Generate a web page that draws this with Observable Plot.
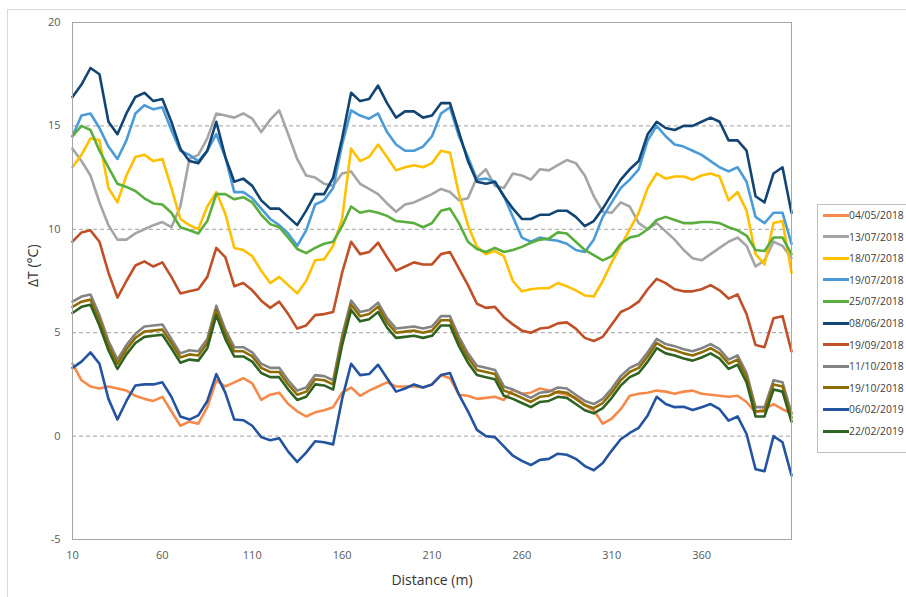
<!DOCTYPE html>
<html><head><meta charset="utf-8">
<script src="https://cdn.jsdelivr.net/npm/d3@7"></script>
<script src="https://cdn.jsdelivr.net/npm/@observablehq/plot@0.6"></script>
<style>
body{margin:0;background:#fff;}
#wrap{position:relative;width:906px;height:597px;overflow:hidden;font-family:"Open Sans",sans-serif;background:#fff;}
#border{position:absolute;left:7px;top:9px;width:1000px;height:700px;border:1px solid #d9d9d9;}
#chart{position:absolute;left:0;top:0;}
#legend{position:absolute;left:817px;top:204px;width:130px;height:247px;border:1px solid #bfbfbf;background:#fff;}
.row{position:absolute;left:0;height:16px;width:130px;}
.sw{position:absolute;left:5px;top:6.5px;width:26px;height:3px;}
.lt{position:absolute;left:31px;top:0;line-height:16px;font-size:10.3px;color:#404040;white-space:nowrap;}
</style></head><body>
<div id="wrap"><div id="border"></div><div id="chart"></div><div id="legend"></div></div>
<script>
const distances = d3.range(10, 411, 5);
const xTicks = [10, 60, 110, 160, 210, 260, 310, 360];
const yTicks = [-5, 0, 5, 10, 15, 20];
const gridTicks = [0, 5, 10, 15];

const seriesNames = ["04/05/2018","13/07/2018","18/07/2018","19/07/2018","25/07/2018","08/06/2018","19/09/2018","11/10/2018","19/10/2018","06/02/2019","22/02/2019"];
const seriesColors = ["#F58A4A","#A5A5A5","#FFC000","#4A9BD7","#5AAE3E","#124573","#BF5028","#838383","#8F6D05","#2454A0","#2F6322"];

const s0405 = [3.5,2.7,2.4,2.3,2.4,2.3,2.2,1.95,1.8,1.7,
 1.9,1.2,0.5,0.7,0.6,1.4,2.7,2.4,2.6,2.8,
 2.55,1.75,2.0,2.1,1.55,1.2,0.95,1.15,1.25,1.4,
 2.1,2.35,1.95,2.2,2.4,2.6,2.4,2.4,2.4,2.35,
 2.5,2.95,2.8,2.0,1.95,1.8,1.85,1.9,1.75,2.25,
 2.05,2.1,2.3,2.2,2.1,2.0,1.85,1.5,1.25,0.6,
 0.85,1.3,1.95,2.05,2.1,2.2,2.15,2.05,2.15,2.2,
 2.05,2.0,1.95,1.9,1.95,1.65,1.15,1.3,1.55,1.3,
 1.1];
const s1307 = [13.9,13.3,12.6,11.3,10.2,9.5,9.5,9.8,10.0,10.2,
 10.35,10.1,11.1,13.4,13.6,14.4,15.6,15.5,15.4,15.6,
 15.35,14.7,15.3,15.75,14.6,13.4,12.6,12.5,12.2,12.1,
 12.7,12.8,12.2,11.95,11.7,11.25,10.85,11.2,11.3,11.5,
 11.7,11.95,11.8,11.4,11.5,12.5,12.9,12.1,12.0,12.7,
 12.6,12.4,12.9,12.85,13.1,13.35,13.2,12.6,11.6,10.85,
 10.8,11.3,11.1,10.3,10.0,10.3,9.9,9.5,9.0,8.6,
 8.5,8.8,9.1,9.4,9.6,9.2,8.2,8.5,9.4,9.2,
 8.6];
const s1807 = [13.0,13.6,14.4,14.3,12.0,11.3,12.6,13.5,13.6,13.3,
 13.4,12.0,10.5,10.2,10.0,11.1,11.8,10.75,9.1,9.0,
 8.7,8.0,7.4,7.7,7.3,6.9,7.5,8.5,8.55,9.2,
 10.5,13.9,13.3,13.5,14.1,13.5,12.85,13.0,13.1,13.0,
 13.2,13.8,13.7,11.7,10.2,9.15,8.8,8.95,8.7,7.5,
 7.0,7.1,7.15,7.15,7.4,7.25,7.05,6.8,6.75,7.5,
 8.4,9.2,10.0,10.8,12.0,12.7,12.45,12.55,12.55,12.4,
 12.6,12.7,12.55,11.4,11.8,10.9,8.8,8.3,10.3,10.4,
 7.9];
const s1907 = [14.5,15.5,15.6,14.9,14.0,13.4,14.3,15.6,16.0,15.8,
 15.9,14.8,13.8,13.6,13.3,13.8,14.6,13.5,11.8,11.8,
 11.5,11.0,10.5,10.2,9.8,9.2,9.95,11.2,11.4,12.0,
 14.1,15.75,15.5,15.35,15.6,14.7,14.1,13.8,13.8,14.0,
 14.5,15.6,15.9,14.5,13.5,12.4,12.45,12.3,11.6,10.6,
 9.6,9.4,9.6,9.5,9.45,9.3,9.0,8.9,9.5,10.6,
 11.3,12.0,12.4,12.9,14.3,15.0,14.5,14.1,14.0,13.8,
 13.6,13.3,13.0,12.8,13.0,12.3,10.6,10.3,10.8,10.8,
 9.3];
const s2507 = [14.5,15.0,14.8,13.8,13.0,12.2,12.05,11.85,11.5,11.25,
 11.2,10.8,10.1,9.95,9.8,10.4,11.7,11.7,11.45,11.55,
 11.3,10.7,10.25,10.1,9.6,9.05,8.85,9.1,9.3,9.4,
 10.15,11.1,10.8,10.9,10.8,10.65,10.4,10.35,10.3,10.1,
 10.3,10.9,11.0,10.3,9.4,9.05,8.9,9.1,8.9,9.0,
 9.15,9.35,9.5,9.55,9.85,9.8,9.4,9.0,8.75,8.5,
 8.7,9.3,9.6,9.7,10.0,10.45,10.6,10.45,10.3,10.3,
 10.35,10.35,10.3,10.1,9.95,9.7,9.0,8.95,9.6,9.6,
 8.8];
const s0806 = [16.4,17.0,17.8,17.5,15.2,14.6,15.6,16.4,16.6,16.2,
 16.3,15.2,13.9,13.3,13.2,13.8,15.2,13.5,12.3,12.45,
 12.1,11.4,11.0,11.0,10.6,10.2,10.9,11.7,11.7,12.5,
 14.4,16.6,16.2,16.3,16.95,16.1,15.4,15.7,15.7,15.4,
 15.5,16.1,16.1,14.7,13.3,12.3,12.2,12.3,11.6,11.0,
 10.5,10.5,10.7,10.7,10.9,10.9,10.6,10.15,10.4,11.0,
 11.7,12.4,12.9,13.3,14.6,15.2,14.9,14.8,15.0,15.0,
 15.2,15.4,15.2,14.3,14.3,13.8,11.6,11.3,12.7,13.0,
 10.8];
const s1909 = [9.4,9.85,9.95,9.4,7.9,6.7,7.5,8.25,8.45,8.2,
 8.4,7.7,6.9,7.0,7.1,7.7,9.1,8.65,7.25,7.4,
 7.05,6.55,6.2,6.5,5.9,5.2,5.35,5.85,5.9,6.0,
 7.9,9.4,8.8,8.9,9.35,8.65,8.0,8.2,8.4,8.3,
 8.3,8.8,8.9,8.1,7.3,6.4,6.2,6.25,5.75,5.4,
 5.1,5.0,5.2,5.25,5.45,5.5,5.2,4.75,4.6,4.8,
 5.4,6.0,6.2,6.5,7.1,7.6,7.4,7.1,7.0,7.0,
 7.1,7.3,7.05,6.65,6.85,5.9,4.4,4.3,5.7,5.8,
 4.1];
const s1110 = [6.5,6.75,6.85,5.85,4.6,3.7,4.4,4.95,5.3,5.35,
 5.4,4.7,4.0,4.15,4.1,4.7,6.3,5.15,4.3,4.3,
 4.05,3.5,3.3,3.3,2.7,2.2,2.35,2.95,2.9,2.7,
 4.85,6.55,6.0,6.1,6.45,5.7,5.2,5.25,5.3,5.2,
 5.3,5.8,5.8,4.8,4.0,3.4,3.3,3.2,2.4,2.25,
 2.05,1.85,2.1,2.15,2.35,2.3,2.0,1.7,1.55,1.8,
 2.3,2.9,3.3,3.5,4.05,4.7,4.45,4.35,4.2,4.1,
 4.25,4.45,4.2,3.7,3.9,3.05,1.4,1.4,2.7,2.6,
 1.1];
const s1910 = [6.25,6.5,6.6,5.6,4.4,3.5,4.2,4.75,5.05,5.1,
 5.15,4.5,3.8,3.95,3.9,4.5,6.1,4.95,4.1,4.1,
 3.85,3.3,3.1,3.1,2.5,2.0,2.15,2.75,2.7,2.5,
 4.65,6.35,5.8,5.9,6.25,5.5,5.0,5.05,5.1,5.0,
 5.1,5.6,5.6,4.6,3.8,3.2,3.1,3.0,2.2,2.05,
 1.85,1.65,1.9,1.95,2.15,2.1,1.8,1.5,1.35,1.6,
 2.1,2.7,3.1,3.3,3.85,4.5,4.25,4.15,4.0,3.9,
 4.05,4.25,4.0,3.5,3.7,2.85,1.2,1.2,2.5,2.4,
 0.9];
const s0602 = [3.3,3.6,4.05,3.5,1.8,0.8,1.7,2.45,2.5,2.5,
 2.6,1.9,0.95,0.8,1.0,1.7,3.0,2.1,0.8,0.77,
 0.5,-0.05,-0.2,-0.1,-0.75,-1.25,-0.8,-0.25,-0.3,-0.4,
 1.8,3.5,2.95,3.0,3.45,2.8,2.15,2.3,2.5,2.35,
 2.5,2.95,3.05,2.0,1.2,0.3,0.0,-0.05,-0.5,-0.95,
 -1.2,-1.4,-1.15,-1.1,-0.85,-0.9,-1.1,-1.45,-1.65,-1.3,
 -0.7,-0.15,0.15,0.4,1.0,1.9,1.55,1.4,1.42,1.26,
 1.4,1.55,1.3,0.75,0.95,0.1,-1.6,-1.7,0.0,-0.3,
 -1.9];
const s2202 = [5.95,6.25,6.35,5.35,4.15,3.25,3.95,4.5,4.8,4.85,
 4.9,4.25,3.55,3.7,3.65,4.25,5.85,4.7,3.85,3.85,
 3.6,3.05,2.85,2.85,2.25,1.75,1.9,2.5,2.45,2.25,
 4.4,6.1,5.55,5.65,6.0,5.25,4.75,4.8,4.85,4.75,
 4.85,5.35,5.35,4.35,3.55,2.95,2.85,2.75,1.95,1.8,
 1.6,1.4,1.65,1.7,1.9,1.85,1.55,1.25,1.1,1.35,
 1.85,2.45,2.85,3.05,3.6,4.25,4.0,3.9,3.75,3.65,
 3.8,4.0,3.75,3.25,3.45,2.6,0.95,0.95,2.25,2.15,
 0.7];

const seriesValues = [s0405,s1307,s1807,s1907,s2507,s0806,s1909,s1110,s1910,s0602,s2202];
seriesValues.forEach((a,i)=>{ if(a.length!==distances.length) throw new Error(seriesNames[i]+" length "+a.length); });

const rows = seriesNames.map((name,i)=>distances.map((d,j)=>({name, d, v: seriesValues[i][j]})));

const chart = Plot.plot({
  width: 906, height: 597,
  marginLeft: 72, marginRight: 115, marginTop: 22, marginBottom: 58,
  style: {fontFamily: "Open Sans", fontSize: "11px", color: "#595959", background: "transparent", overflow: "visible"},
  x: {domain: [10, 410], ticks: xTicks, tickSize: 0, tickPadding: 12, label: null, tickFormat: d => String(d)},
  y: {domain: [-5, 20], ticks: yTicks, tickSize: 0, tickPadding: 12, label: null, tickFormat: d => String(d)},
  marks: [
    Plot.ruleY(gridTicks, {stroke: "#a0a0a0", strokeDasharray: "4,3", strokeWidth: 1}),
    ...rows.map((r,i)=>Plot.line(r, {x: "d", y: "v", stroke: seriesColors[i], strokeWidth: 2.6, strokeLinejoin: "round", strokeLinecap: "round"})),
    Plot.frame({stroke: "#a6a6a6", strokeWidth: 1}),
    Plot.text(["Distance (m)"], {frameAnchor: "bottom", dy: 41, lineAnchor: "middle", fontSize: 14, fill: "#333333"}),
    Plot.text(["ΔT (°C)"], {frameAnchor: "left", dx: -39, dy: 6, rotate: -90, lineAnchor: "middle", fontSize: 14, fill: "#333333"})
  ]
});
document.getElementById("chart").appendChild(chart);

const legend = document.getElementById("legend");
seriesNames.forEach((name,i)=>{
  const row = document.createElement("div");
  row.className = "row";
  row.style.top = (10 + i*21.6 - 8) + "px";
  const sw = document.createElement("div");
  sw.className = "sw"; sw.style.background = seriesColors[i];
  const t = document.createElement("div");
  t.className = "lt"; t.textContent = name;
  row.appendChild(sw); row.appendChild(t);
  legend.appendChild(row);
});
</script>
</body></html>
